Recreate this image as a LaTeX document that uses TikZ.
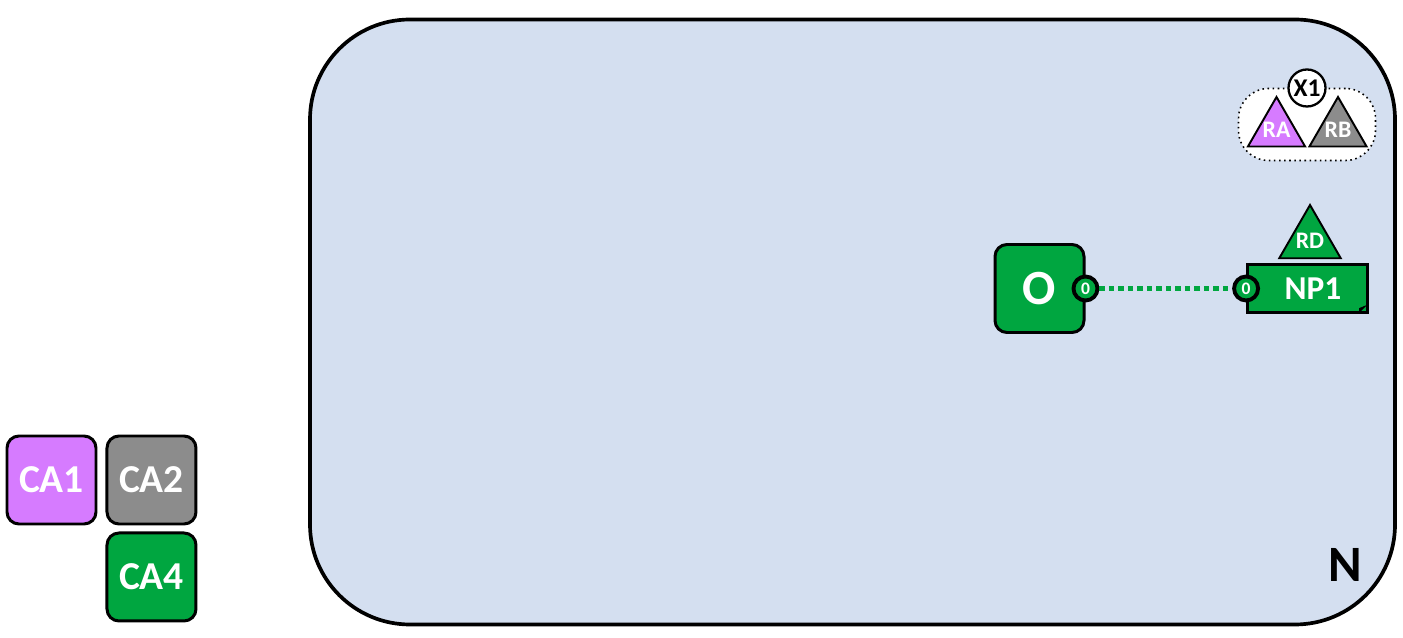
\documentclass[tikz,border=0pt]{standalone}
\usepackage{fontspec}
\setmainfont{Carlito}
\usetikzlibrary{positioning,shapes.geometric,shapes.misc}
\definecolor{netbg}{HTML}{D4DFF0}
\definecolor{ppurple}{HTML}{D67BFF}
\definecolor{pgray}{HTML}{8C8C8C}
\definecolor{pgreen}{HTML}{00A640}
\tikzset{
  netbox/.style={draw=black, line width=2.1pt, fill=netbg, rounded corners=2cm,
                 minimum width=21.7cm, minimum height=12.1cm, inner sep=0pt},
  cabox/.style={draw=black, line width=1.7pt, rounded corners=0.24cm,
                minimum width=1.78cm, minimum height=1.76cm, inner sep=0pt,
                text=white, font=\fontsize{22.5}{24}\selectfont\bfseries},
  portdot/.style={circle, draw=black, line width=2.2pt, fill=pgreen, minimum size=0.48cm,
                  inner sep=0pt, text=white, font=\fontsize{10}{10}\selectfont\bfseries},
  roletri/.style={regular polygon, regular polygon sides=3, draw=black, line width=1.1pt,
                  inner sep=0pt},
  trilbl/.style={text=white, font=\fontsize{13.5}{14}\selectfont\bfseries},
  grpbox/.style={draw=black, dotted, line width=0.9pt, fill=white, rounded corners=0.6cm,
                 minimum width=2.74cm, minimum height=1.44cm, inner sep=0pt},
  link/.style={draw=pgreen, line width=2.7pt, dash pattern=on 3pt off 2.4pt}}
\begin{document}
\begin{tikzpicture}
    \useasboundingbox (0,0) rectangle (28.06,12.76);
    \node[netbox] (net) at (17.05,6.32) {};
    \node[font=\fontsize{29}{30}\selectfont\bfseries] (netlbl) at (26.9,1.46) {N};
    \node[cabox, fill=ppurple] (ca1) at (1.03,3.16) {CA1};
    \node[cabox, fill=pgray, right=0.16cm of ca1] (ca2) {CA2};
    \node[cabox, fill=pgreen, below=0.12cm of ca2] (ca4) {CA4};
    \node[grpbox] (grp) at (26.14,10.27) {};
    \node[roletri, fill=ppurple, minimum size=1.32cm, label={[trilbl]center:RA}] (ra) at (25.53,10.16) {};
    \node[roletri, fill=pgray, minimum size=1.32cm, label={[trilbl]center:RB}] (rb) at (26.76,10.16) {};
    \node[circle, draw=black, line width=1.3pt, fill=white, minimum size=0.74cm, inner sep=0pt,
          font=\fontsize{14.5}{15}\selectfont\bfseries] (x1) at (26.14,11.0) {X1};
    \node[cabox, fill=pgreen, font=\fontsize{28}{30}\selectfont\bfseries] (obj) at (20.79,6.99) {O};
    \node[chamfered rectangle, chamfered rectangle corners=south east,
          chamfered rectangle xsep=0.16cm, chamfered rectangle ysep=0.16cm,
          draw=black, line width=1.6pt, fill=pgreen, minimum width=2.4cm, minimum height=0.96cm,
          inner sep=0pt] (np1) at (26.15,6.99) {};
    \fill[black] ([xshift=-0.17cm]np1.south east) -- ([yshift=0.17cm]np1.south east)
      -- ([xshift=-0.17cm,yshift=0.1cm]np1.south east) -- cycle;
    \node[text=white, font=\fontsize{19}{20}\selectfont\bfseries] (np1lbl) at (26.26,6.99) {NP1};
    \node[roletri, fill=pgreen, minimum size=1.42cm, label={[trilbl]center:RD}] (rd) at (26.2,7.95) {};
    \node[portdot] (oport) at (obj.east) {0};
    \node[portdot] (nport) at (np1.west) {0};
    \draw[link] (oport) -- (nport);
  \end{tikzpicture}
\end{document}
